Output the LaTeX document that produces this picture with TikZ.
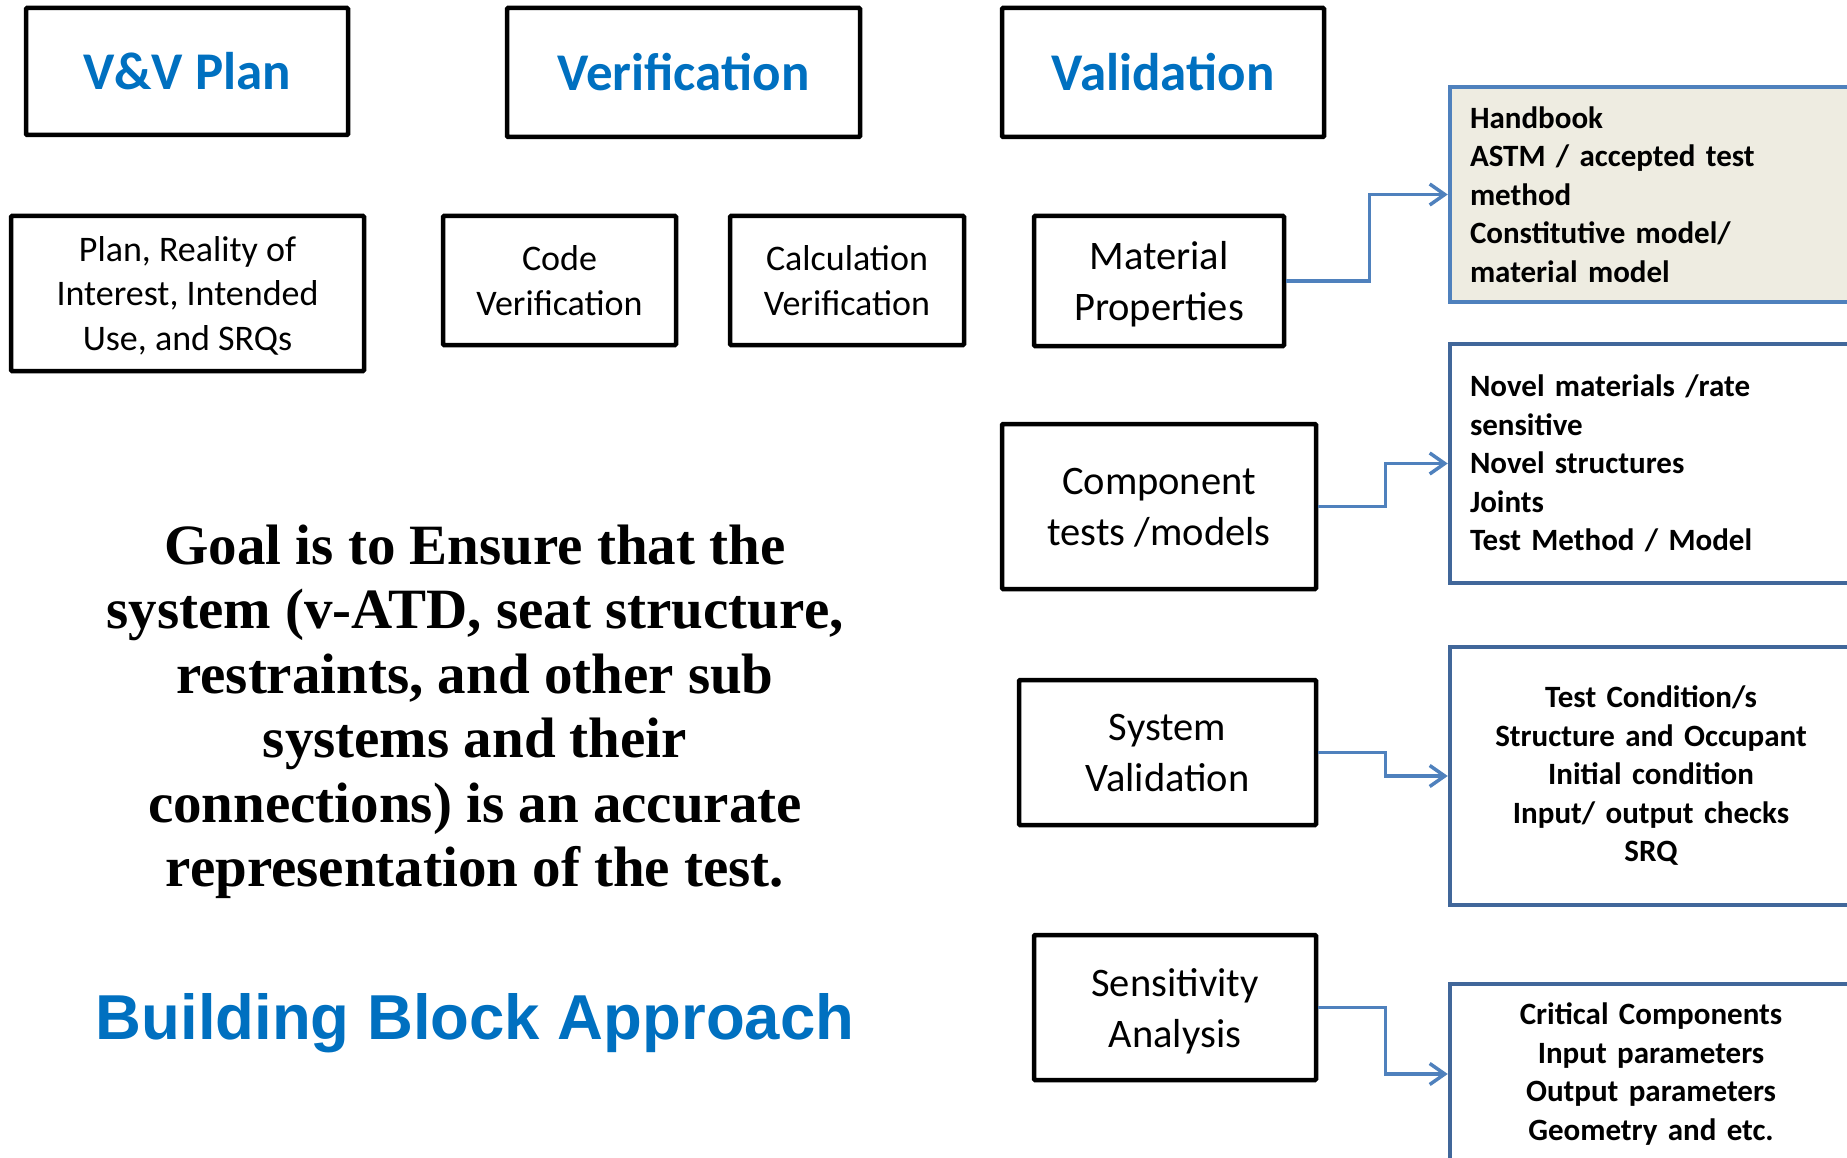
\documentclass[tikz,border=0pt]{standalone}
\usepackage{fontspec}
\setmainfont{Carlito}
\newfontfamily\goalfont{Liberation Serif}
\newfontfamily\arialfont{Liberation Sans}
\usetikzlibrary{arrows.meta}
\definecolor{vvblue}{HTML}{0070C0}
\definecolor{linkblue}{HTML}{4F81BD}
\definecolor{boxblue}{HTML}{41679A}
\definecolor{paper}{HTML}{EEECE1}

\begin{document}
\begin{tikzpicture}[x=1pt, y=-1pt,
    box/.style={draw, line width=4.5pt, rounded corners=1pt, align=center, inner sep=0pt},
    head/.style={box, text=vvblue, font=\fontsize{53}{62}\selectfont\bfseries},
    small/.style={box, text depth=0pt, font=\fontsize{36}{44.5}\selectfont},
    big/.style={box, text depth=0pt, font=\fontsize{40.5}{51}\selectfont},
    info/.style={draw=boxblue, line width=4.5pt, inner xsep=20pt, inner ysep=0pt,
        text width=362pt, font=\fontsize{31}{38.5}\selectfont\bfseries},
    link/.style={draw=linkblue, line width=3.5pt, -{Straight Barb[length=15pt, width=21pt]}}]
    \useasboundingbox (0,0) rectangle (1847,1158);
    \clip (0,0) rectangle (1847,1158);

    % top row
    \node[head, minimum width=322pt, minimum height=127pt] (vvplan) at (187,71.5) {V\&V Plan};
    \node[head, minimum width=353pt, minimum height=129pt] (verif) at (683.5,72.5) {Verification};
    \node[head, minimum width=322pt, minimum height=129pt] (valid) at (1163,72.5) {Validation};

    % second row
    \node[small, minimum width=353pt, minimum height=155pt] (plan) at (187.5,293.5) {Plan, Reality of\\Interest, Intended\\Use, and SRQs};
    \node[small, minimum width=233pt, minimum height=129pt] (code) at (559.5,280.5) {Code\\Verification};
    \node[small, minimum width=234pt, minimum height=129pt] (calc) at (847,280.5) {Calculation\\Verification};

    % validation column
    \node[big, minimum width=250pt, minimum height=130pt] (mat) at (1159,281) {Material\\Properties};
    \node[big, minimum width=314pt, minimum height=165pt] (comp) at (1159,506.5) {Component\\tests /models};
    \node[big, minimum width=297pt, minimum height=145pt] (sys) at (1167.5,752.5) {System\\Validation};
    \node[big, minimum width=282pt, minimum height=145pt] (sens) at (1175,1007.5) {Sensitivity\\Analysis};

    % detail boxes on the right
    \node[info, draw=linkblue, fill=paper, align=left, minimum height=215pt] (hand) at (1651,194.5)
        {Handbook\\ASTM / accepted test\\method\\Constitutive model/\\material model};
    \node[info, align=left, minimum height=239pt] (novel) at (1651,463.5)
        {Novel materials /rate\\sensitive\\Novel structures\\Joints\\Test Method / Model};
    \node[info, align=center, minimum height=258pt] (cond) at (1651,776)
        {Test Condition/s\\Structure and Occupant\\Initial condition\\Input/ output checks\\SRQ};
    \node[info, align=center, minimum height=180pt] (crit) at (1651,1074)
        {Critical Components\\Input parameters\\Output parameters\\Geometry and etc.};

    \draw[link] (mat.east) -- ++(83,0) |- (hand.west);
    \draw[link] (comp.east) -- ++(67,0) |- (novel.west);
    \draw[link] (sys.east) -- ++(67,0) |- (cond.west);
    \draw[link] (sens.east) -- ++(67,0) |- (crit.west);

    % goal statement
    \node[align=center, font=\goalfont\bfseries\fontsize{57}{64.5}\selectfont] (goal) at (475,712)
        {Goal is to Ensure that the\\system (v-ATD, seat structure,\\restraints, and other sub\\systems and their\\connections) is an accurate\\representation of the test.};
    \node[text=vvblue, font=\arialfont\bfseries\fontsize{63.5}{75}\selectfont] (bba) at (475,1023) {Building Block Approach};
\end{tikzpicture}
\end{document}
